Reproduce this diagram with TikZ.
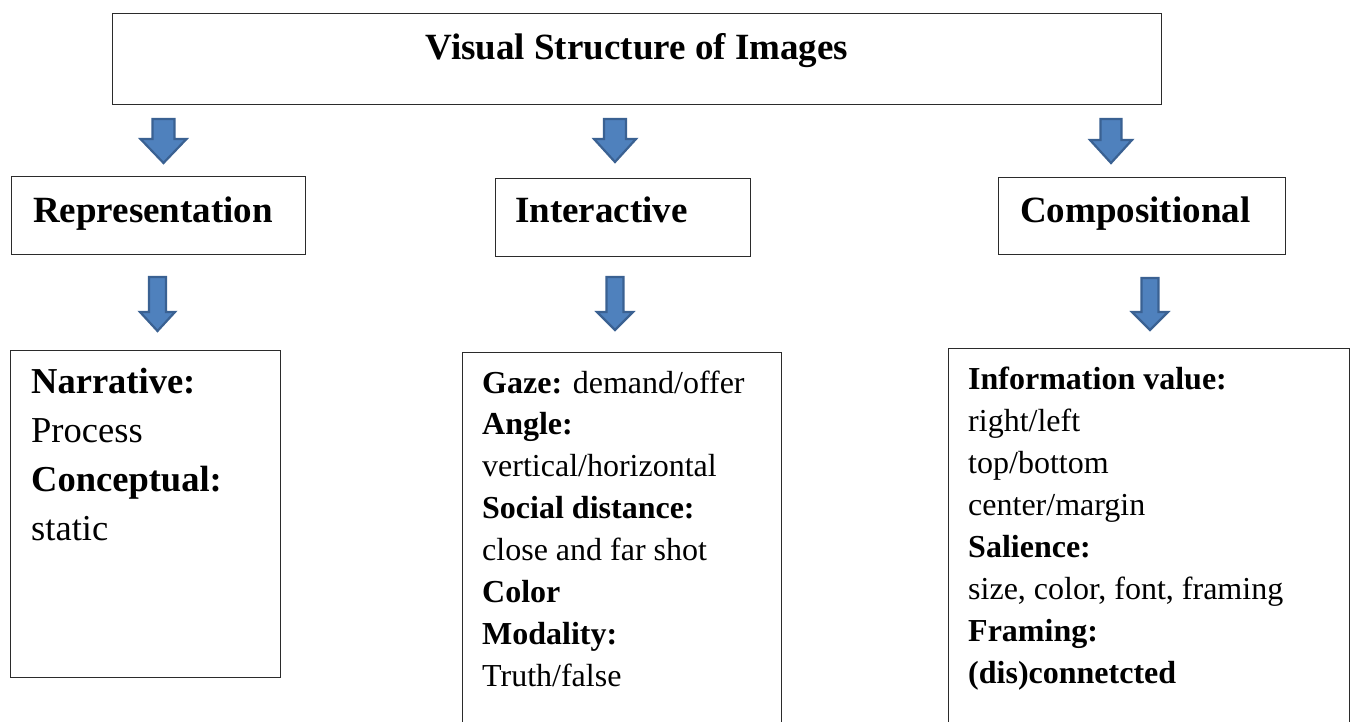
\documentclass[tikz,border=0pt]{standalone}
\usepackage{fontspec}
\setmainfont{Liberation Serif}
\definecolor{arrowfill}{HTML}{4F81BD}
\definecolor{arrowline}{HTML}{3A6192}
\definecolor{boxline}{HTML}{2B2B2B}
\tikzset{
  frame/.style={draw=boxline, line width=1.3pt, fill=white, inner sep=0pt, anchor=north west},
  headtext/.style={font=\fontsize{37}{44}\selectfont\bfseries, inner sep=0pt, anchor=base west},
  bodytext/.style={inner sep=0pt, anchor=base west},
  blockarrow/.style={draw=arrowline, fill=arrowfill, line width=2.2pt, line join=miter}
}
% down-pointing block arrow: #1 centre x, #2 top y, #3 y where the head begins,
% #4 tip y, #5 half shaft width, #6 half head width
\newcommand\downblock[6]{%
  \draw[blockarrow] (#1-#5,#2) -- (#1+#5,#2) -- (#1+#5,#3) -- (#1+#6,#3)
    -- (#1,#4) -- (#1-#6,#3) -- (#1-#5,#3) -- cycle;}
\begin{document}
\begin{tikzpicture}[x=1pt,y=-1pt]
\useasboundingbox (0,0) rectangle (1352,722);

% top title box
\node[frame, minimum width=1049pt, minimum height=91pt] (title) at (112,13) {};
\node[font=\fontsize{37}{44}\selectfont\bfseries, inner sep=0pt, anchor=base] (titletext) at (637,60) {Visual Structure of Images};

% second row
\node[frame, minimum width=294pt, minimum height=78pt] (rep) at (11,176) {};
\node[headtext] (reptext) at (33,223) {Representation};
\node[frame, minimum width=255pt, minimum height=78pt] (inter) at (495,178) {};
\node[headtext] (intertext) at (515,223) {Interactive};
\node[frame, minimum width=287pt, minimum height=77pt] (comp) at (998,177) {};
\node[headtext] (comptext) at (1020,223) {Compositional};

% third row
\node[frame, minimum width=270pt, minimum height=327pt] (repbox) at (10,350) {};
\node[bodytext] (repdetail) at (31,393) {\fontsize{36.5}{49}\selectfont
  \begin{tabular}[t]{@{}l@{}}
  \textbf{Narrative:}\\
  Process\\
  \textbf{Conceptual:}\\
  static
  \end{tabular}};

\node[frame, minimum width=319pt, minimum height=400pt] (interbox) at (462,352) {};
\node[bodytext] (interdetail) at (482,393) {\fontsize{32}{41.9}\selectfont
  \begin{tabular}[t]{@{}l@{}}
  \textbf{Gaze:} demand/offer\\
  \textbf{Angle:}\\
  vertical/horizontal\\
  \textbf{Social distance:}\\
  close and far shot\\
  \textbf{Color}\\
  \textbf{Modality:}\\
  Truth/false
  \end{tabular}};

\node[frame, minimum width=401pt, minimum height=400pt] (compbox) at (948,348) {};
\node[bodytext] (compdetail) at (968,389) {\fontsize{32}{42}\selectfont
  \begin{tabular}[t]{@{}l@{}}
  \textbf{Information value:}\\
  right/left\\
  top/bottom\\
  center/margin\\
  \textbf{Salience:}\\
  size, color, font, framing\\
  \textbf{Framing:}\\
  \textbf{(dis)connetcted}
  \end{tabular}};

% block arrows between the rows
\downblock{163.5}{119}{139}{163}{11}{23}
\downblock{615}{119}{139}{162}{11}{21}
\downblock{1111}{119}{140}{163}{10.5}{21}
\downblock{157.5}{277}{312}{331}{8.5}{17.5}
\downblock{615}{277}{312}{330}{8.5}{18}
\downblock{1150}{278}{312}{330}{8.5}{18}
\end{tikzpicture}
\end{document}
